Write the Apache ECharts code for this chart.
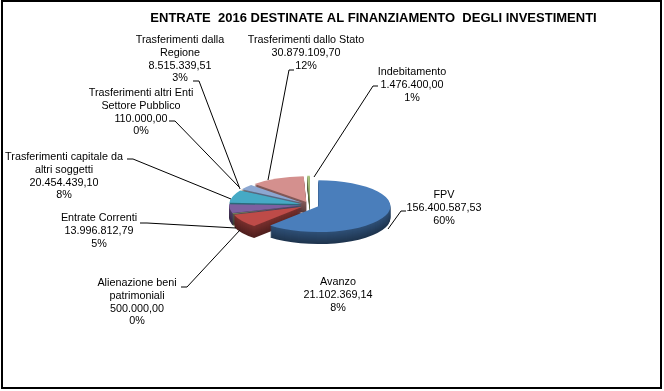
<!DOCTYPE html>
<html><head><meta charset="utf-8">
<script src="https://cdn.jsdelivr.net/npm/echarts@6/dist/echarts.min.js"></script>
<style>
html,body{margin:0;padding:0;background:#fff;overflow:hidden;width:664px;height:391px;}
#wrap{position:relative;width:664px;height:391px;overflow:hidden;background:#fff;}
#pie{position:absolute;left:0;top:0;width:664px;transform-origin:0 0;}
#main{position:absolute;left:0;top:0;width:664px;height:391px;}
</style></head><body>
<div id="wrap"><div id="pie"></div><div id="main"></div></div>
<script>
// ---- data ----
const titleText = 'ENTRATE  2016 DESTINATE AL FINANZIAMENTO  DEGLI INVESTIMENTI';
const categories = [
  'FPV',
  'Avanzo',
  'Alienazione beni\npatrimoniali',
  'Entrate Correnti',
  'Trasferimenti capitale da\naltri soggetti',
  'Trasferimenti altri Enti\nSettore Pubblico',
  'Trasferimenti dalla\nRegione',
  'Trasferimenti dallo Stato',
  'Indebitamento'
];
const values = [156400587.53, 21102369.14, 500000.00, 13996812.79, 20454439.10, 110000.00, 8515339.51, 30879109.70, 1476400.00];
const percentLabels = ['60%', '8%', '0%', '5%', '8%', '0%', '3%', '12%', '1%'];

// ---- styles / layout ----
const topColors = ['#4A7EBB', '#BE4B48', '#98B954', '#7D60A0', '#46AAC5', '#F79646', '#8CA7D1', '#D4908E', '#A9C47F'];
const FONT = "'Liberation Sans', Arial, sans-serif";
const K = 0.36, CX = 310, CY = 205, R = 72, DEPTH = 12, EXPLODE = 9;

function shade(hex, f) {
  const n = parseInt(hex.slice(1), 16);
  const r = Math.round(((n >> 16) & 255) * f), g = Math.round(((n >> 8) & 255) * f), b = Math.round((n & 255) * f);
  return 'rgb(' + r + ',' + g + ',' + b + ')';
}
function fmtIT(v) {
  const parts = v.toFixed(2).split('.');
  return parts[0].replace(/\B(?=(\d{3})+(?!\d))/g, '.') + ',' + parts[1];
}

// ---- 3D-looking pie: stacked pie series in a vertically squashed container ----
const pieEl = document.getElementById('pie');
pieEl.style.height = (391 / K) + 'px';
pieEl.style.transform = 'scaleY(' + K + ')';
const pieChart = echarts.init(pieEl, null, { renderer: 'svg' });
function makeLayer(offsetY, colorFn) {
  return {
    type: 'pie', silent: true, animation: false, startAngle: 90, clockwise: true,
    center: [CX, (CY + offsetY) / K], radius: [0, R],
    selectedMode: 'multiple', selectedOffset: EXPLODE,
    label: { show: false }, labelLine: { show: false }, emphasis: { disabled: true },
    data: values.map((v, i) => ({
      name: categories[i], value: v, selected: true,
      itemStyle: { color: colorFn(i), borderWidth: 0 },
      select: { itemStyle: { color: colorFn(i), borderWidth: 0 } }
    }))
  };
}
const pieSeries = [];
for (let d = DEPTH; d >= 1; d--) {
  pieSeries.push(makeLayer(d, i => shade(topColors[i], 0.42 + 0.22 * (1 - d / DEPTH))));
}
pieSeries.push(makeLayer(0, i => topColors[i]));
pieChart.setOption({ animation: false, series: pieSeries });

// ---- overlay: title, frame, labels with leader lines ----
const labelPlacement = [
  { x: 444, y: 188.6, line: [[388, 229], [401, 211], [406, 211]] },
  { x: 338, y: 275.6, line: null },
  { x: 137, y: 276.6, line: [[240, 230], [187, 287], [181, 287]] },
  { x: 99, y: 211.6, line: [[236, 228], [147, 223], [140, 223]] },
  { x: 64, y: 150.6, line: [[231, 199], [133, 159], [127, 159]] },
  { x: 141, y: 86.6, line: [[239, 187], [175, 121], [169, 121]] },
  { x: 180, y: 33.6, line: [[240, 189], [199, 81], [193, 81]] },
  { x: 306, y: 33.6, line: [[268, 180], [289, 70], [294, 70]] },
  { x: 412, y: 65.6, line: [[314, 177], [373, 86], [378, 86]] }
];
const chart = echarts.init(document.getElementById('main'), null, { renderer: 'canvas' });
chart.setOption({
  animation: false,
  backgroundColor: 'transparent',
  title: {
    text: titleText, left: 373.5, top: 12, padding: 0, textAlign: 'center',
    textStyle: { fontFamily: FONT, fontSize: 13, fontWeight: 'bold', color: '#000' }
  },
  graphic: [{
    type: 'rect', shape: { x: 2, y: 1, width: 659, height: 387 }, silent: true,
    style: { fill: null, stroke: '#000', lineWidth: 2 }
  }],
  series: [{
    type: 'pie', silent: true, startAngle: 90, clockwise: true,
    center: [CX, CY], radius: [0, R], avoidLabelOverlap: false,
    itemStyle: { color: 'rgba(0,0,0,0)' }, emphasis: { disabled: true },
    label: {
      show: true, fontFamily: FONT, fontSize: 10.8, lineHeight: 12.8, color: '#000',
      formatter: p => categories[p.dataIndex] + '\n' + fmtIT(values[p.dataIndex]) + '\n' + percentLabels[p.dataIndex]
    },
    labelLine: { show: true, lineStyle: { color: '#000', width: 1 } },
    labelLayout: function (params) {
      const pl = labelPlacement[params.dataIndex];
      const o = { x: pl.x, y: pl.y, align: 'center', verticalAlign: 'top' };
      if (pl.line) o.labelLinePoints = pl.line;
      return o;
    },
    data: values.map((v, i) => ({ name: categories[i], value: v, labelLine: { show: labelPlacement[i].line !== null } }))
  }]
});
</script>
</body></html>
